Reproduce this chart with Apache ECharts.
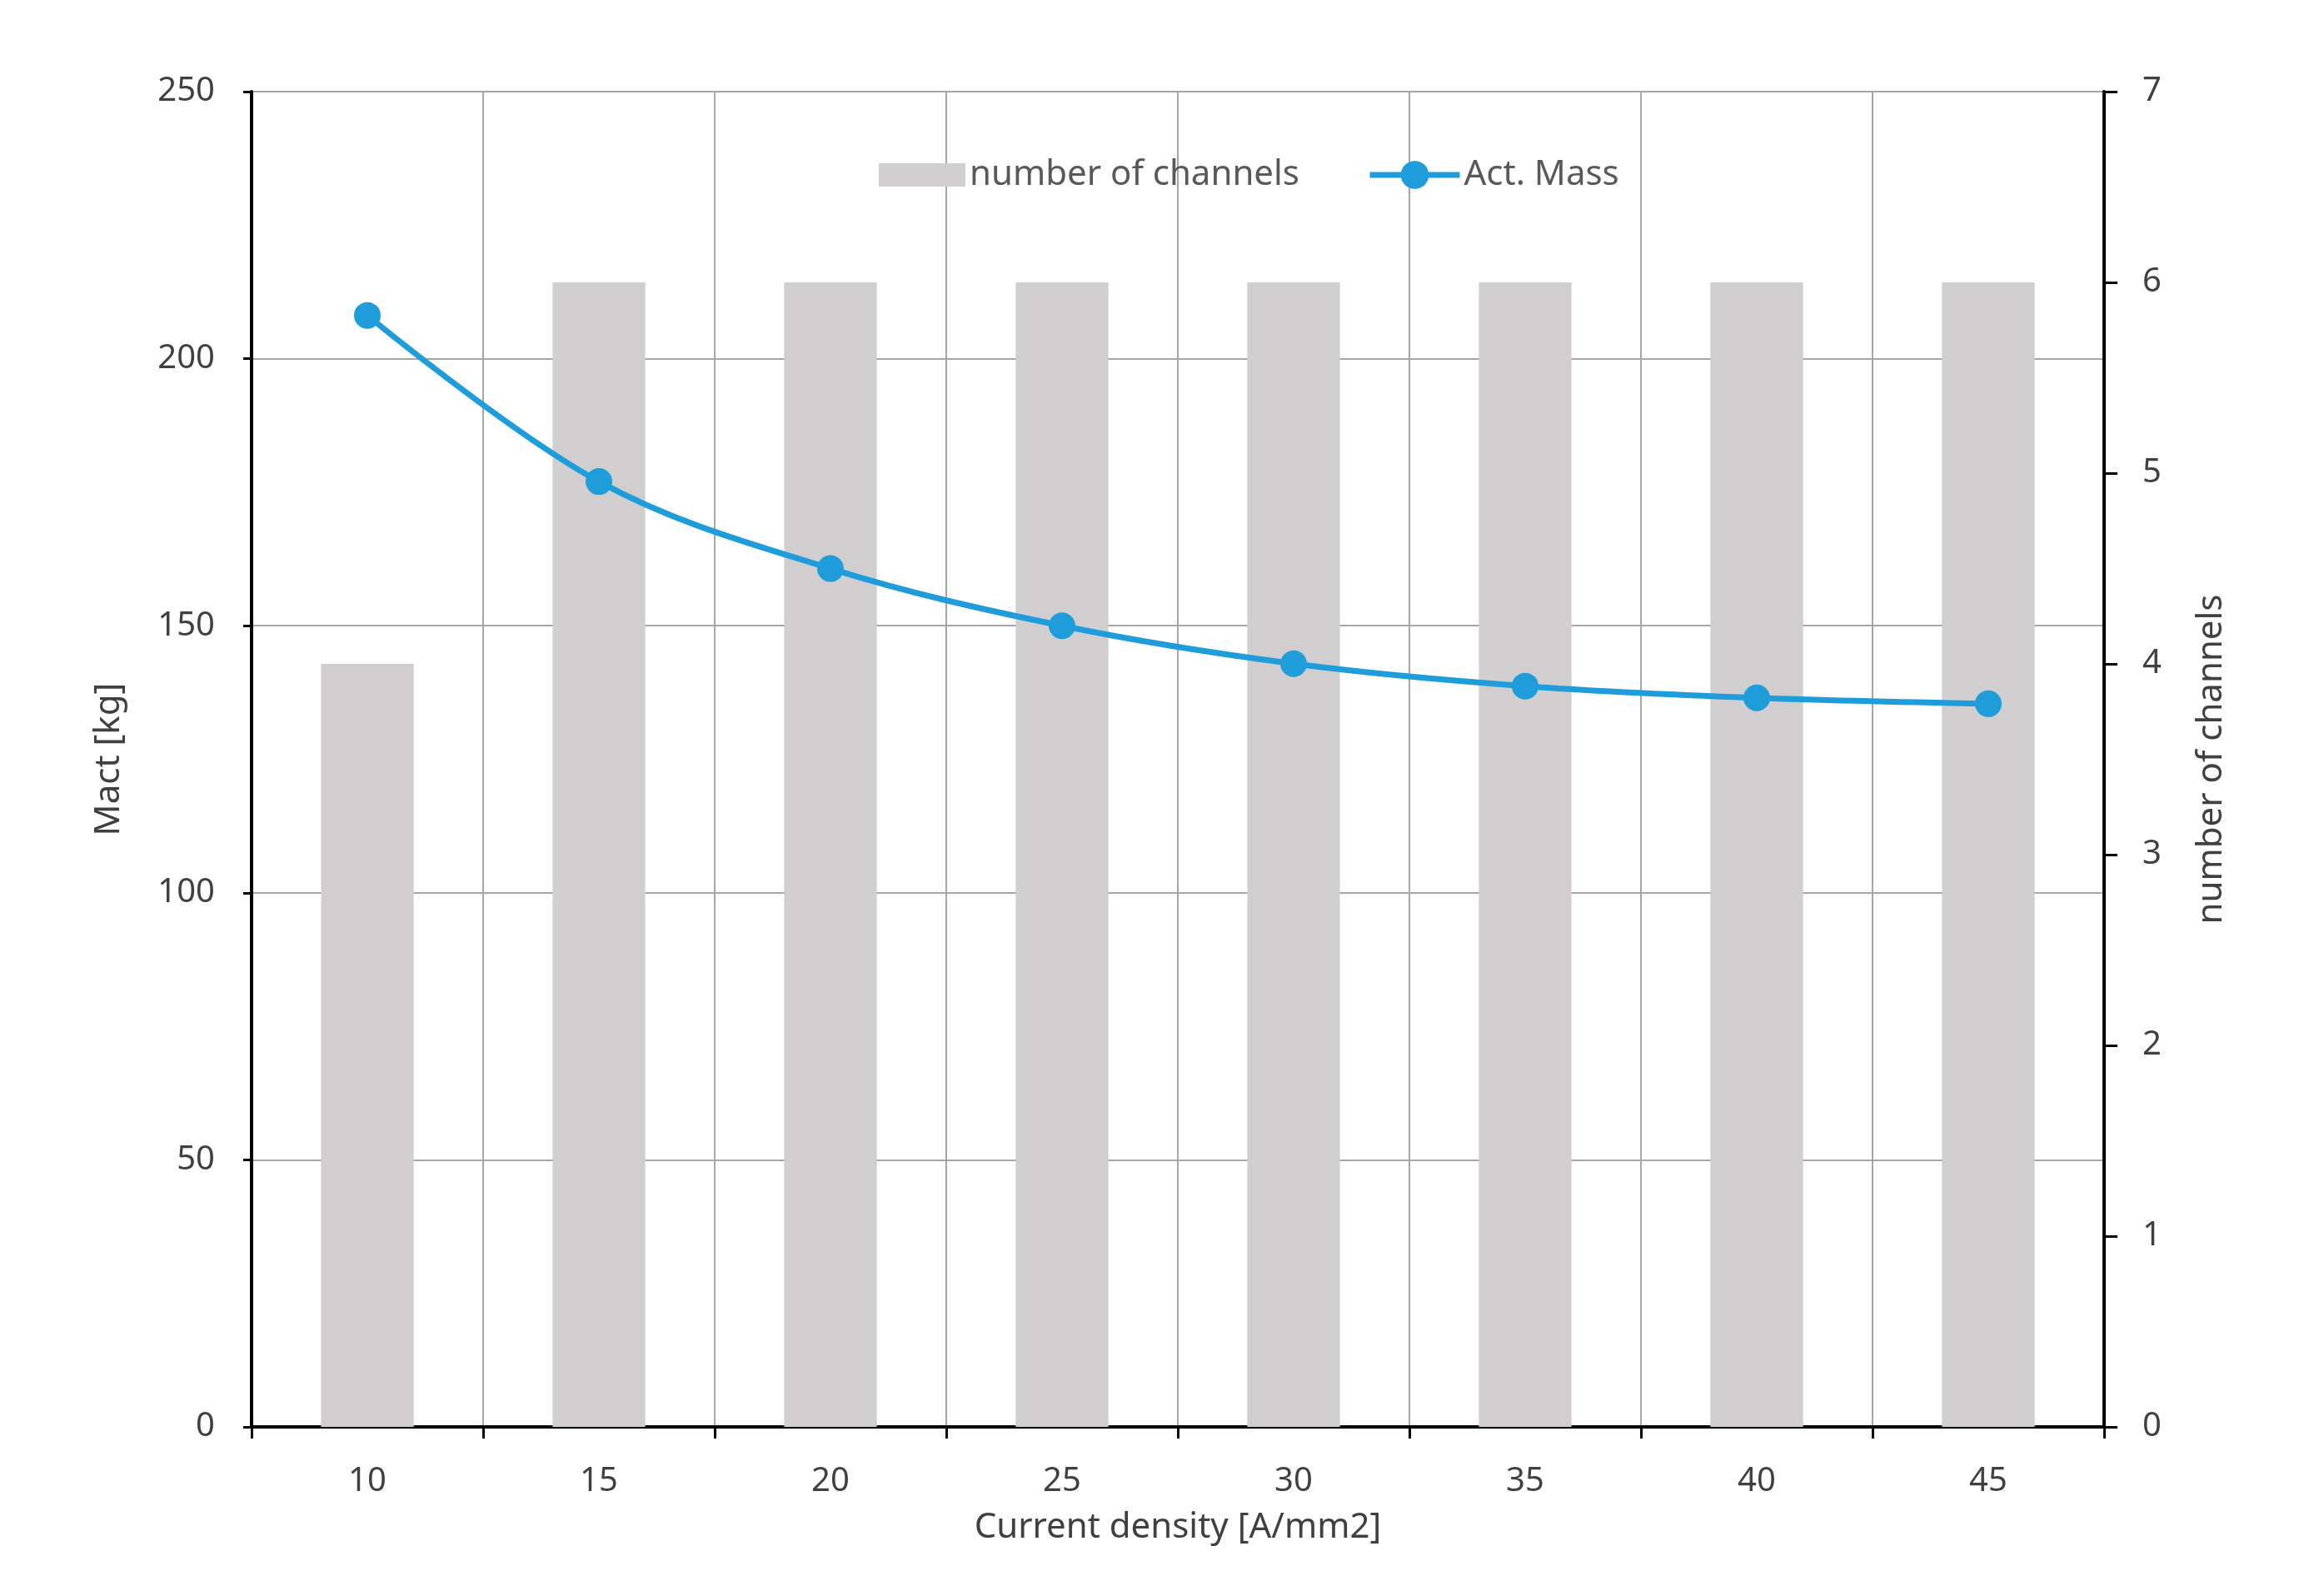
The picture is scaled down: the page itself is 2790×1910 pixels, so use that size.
<!DOCTYPE html>
<html>
<head>
<meta charset="utf-8">
<script src="https://cdn.jsdelivr.net/npm/echarts@6/dist/echarts.min.js"></script>
<style>
html,body{margin:0;padding:0;background:#fff;}
#chart{width:2790px;height:1910px;}
</style>
</head>
<body>
<div id="chart"></div>
<script>
const categories = ['10','15','20','25','30','35','40','45'];
const channels = [4, 6, 6, 6, 6, 6, 6, 6];
const actMass = [208.1, 177.0, 160.7, 150.0, 142.9, 138.7, 136.5, 135.4];
const leftTicks = [0, 50, 100, 150, 200, 250];
const rightTicks = [0, 1, 2, 3, 4, 5, 6, 7];

const FONT = 'Noto Sans';
const BLUE = '#1f9ddb';
const chart = echarts.init(document.getElementById('chart'));
chart.setOption({
  animation: false,
  backgroundColor: '#ffffff',
  textStyle: { fontFamily: FONT },
  legend: [
    {
      left: 1050,
      top: 184,
      itemWidth: 104,
      itemHeight: 28,
      textStyle: { fontSize: 42, color: '#595959', fontFamily: FONT },
      data: [{ name: 'number of channels', icon: 'rect', itemStyle: { color: '#d0cece' } }]
    },
    {
      left: 1636,
      top: 184,
      itemWidth: 108,
      itemHeight: 42,
      textStyle: { fontSize: 42, color: '#595959', fontFamily: FONT },
      data: [{ name: 'Act. Mass', lineStyle: { width: 7, color: BLUE }, itemStyle: { color: BLUE } }]
    }
  ],
  grid: { left: 302, right: 264, top: 110, bottom: 197, containLabel: false },
  xAxis: {
    type: 'category',
    data: categories,
    boundaryGap: true,
    name: 'Current density [A/mm2]',
    nameLocation: 'middle',
    nameGap: 100,
    nameTextStyle: { fontSize: 42, color: '#404040', fontFamily: FONT },
    axisLine: { lineStyle: { color: '#000', width: 4 } },
    axisTick: { show: true, length: 14, lineStyle: { color: '#000', width: 3 } },
    axisLabel: { fontSize: 40, color: '#404040', margin: 46, fontFamily: FONT },
    splitLine: { show: true, lineStyle: { color: '#a6a6a6', width: 2 } }
  },
  yAxis: [
    {
      type: 'value',
      min: leftTicks[0],
      max: leftTicks[leftTicks.length - 1],
      interval: 50,
      name: 'Mact [kg]',
      nameLocation: 'middle',
      nameGap: 150,
      nameRotate: 90,
      nameTextStyle: { fontSize: 42, color: '#404040', fontFamily: FONT },
      axisLine: { show: true, lineStyle: { color: '#000', width: 4 } },
      axisTick: { show: true, length: 10, lineStyle: { color: '#000', width: 3 } },
      axisLabel: { fontSize: 40, color: '#404040', margin: 44, fontFamily: FONT },
      splitLine: { show: true, lineStyle: { color: '#a6a6a6', width: 2 } }
    },
    {
      type: 'value',
      min: rightTicks[0],
      max: rightTicks[rightTicks.length - 1],
      interval: 1,
      position: 'right',
      name: 'number of channels',
      nameLocation: 'middle',
      nameGap: 108,
      nameRotate: 90,
      nameTextStyle: { fontSize: 42, color: '#404040', fontFamily: FONT },
      axisLine: { show: true, lineStyle: { color: '#000', width: 4 } },
      axisTick: { show: true, length: 16, lineStyle: { color: '#000', width: 3 } },
      axisLabel: { fontSize: 40, color: '#404040', margin: 46, fontFamily: FONT },
      splitLine: { show: false }
    }
  ],
  series: [
    {
      name: 'number of channels',
      type: 'bar',
      yAxisIndex: 1,
      data: channels,
      barWidth: '40%',
      itemStyle: { color: '#d0cece' },
      z: 1
    },
    {
      name: 'Act. Mass',
      type: 'line',
      yAxisIndex: 0,
      data: actMass,
      smooth: 0.35,
      symbol: 'circle',
      symbolSize: 32,
      lineStyle: { color: BLUE, width: 7 },
      itemStyle: { color: BLUE },
      z: 3
    }
  ]
});
</script>
</body>
</html>
